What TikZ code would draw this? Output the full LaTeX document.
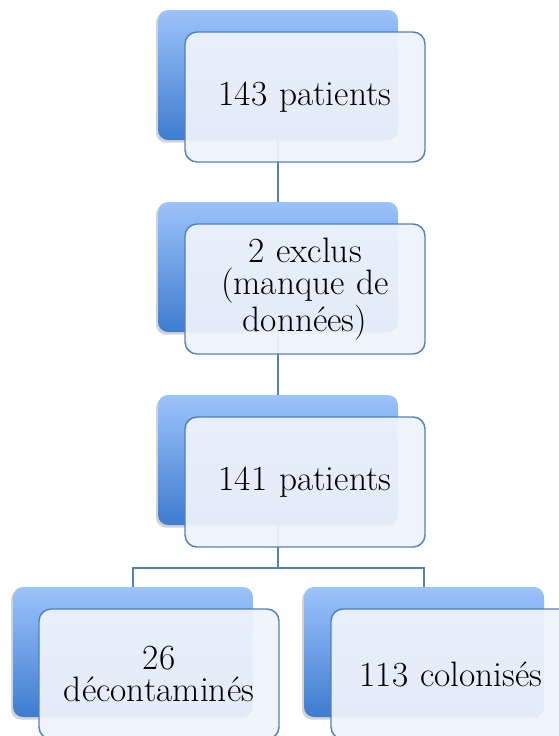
\documentclass[tikz,border=0pt]{standalone}
\usepackage{tikz}
\usetikzlibrary{calc}
\usetikzlibrary{positioning}
\usetikzlibrary{shadows}

\definecolor{boxtop}{RGB}{156,195,250}
\definecolor{boxbottom}{RGB}{62,124,208}
\definecolor{boxline}{RGB}{79,129,189}
\definecolor{boxfill}{RGB}{239,244,251}

\begin{document}
\begin{tikzpicture}[
	x=0.75pt, y=-0.75pt,
  every node/.style={font=\fontsize{26.5}{24.5}\selectfont},
  backbox/.style = {rectangle, rounded corners=7.5pt, minimum width=180pt, minimum height=97.5pt,
    top color=boxtop, bottom color=boxbottom,
    drop shadow={shadow xshift=-1.5pt, shadow yshift=-2pt, opacity=0.35}},
  frontbox/.style = {rectangle, rounded corners=9pt, minimum width=180pt, minimum height=97.5pt,
    draw=boxline, line width=1.1pt, fill=boxfill, fill opacity=0.93, text opacity=1,
    align=center, text width=172pt},
  link/.style = {draw=boxline, line width=1.1pt}
  ]
	\clip (0,0) rectangle (559,736);
	\useasboundingbox (0,0) rectangle (559,736);

	% back boxes
	\node[backbox] (b1) at (278,75) {};
	\node[backbox] (b2) at (278,267) {};
	\node[backbox] (b3) at (278,460) {};
	\node[backbox] (c1) at (133,652) {};
	\node[backbox] (c2) at (424,652) {};

	% connectors
	\coordinate (split) at (278,568);
	\draw[link] (b1) -- (b2);
	\draw[link] (b2) -- (b3);
	\draw[link] (b3.south) -- (split) -| (c1.north);
	\draw[link] (split) -| (c2.north);

	% front boxes
	\node[frontbox] (f1) at ([shift={(27,22)}]b1) {143 patients};
	\node[frontbox] (f2) at ([shift={(27,22)}]b2) {2 exclus\\(manque de\\données)};
	\node[frontbox] (f3) at ([shift={(27,22)}]b3) {141 patients};
	\node[frontbox] (g1) at ([shift={(26,22)}]c1) {26\\décontaminés};
	\node[frontbox] (g2) at ([shift={(27,22)}]c2) {113 colonisés};

\end{tikzpicture}
\end{document}
